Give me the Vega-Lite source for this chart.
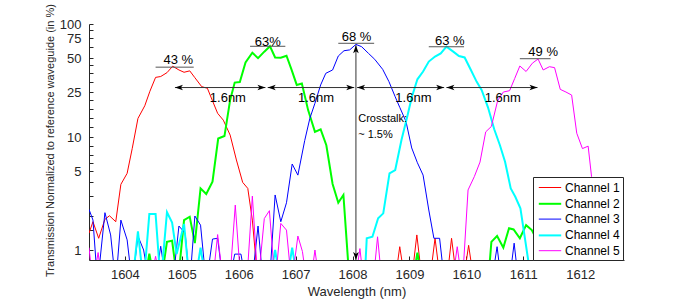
{
"$schema":"https://vega.github.io/schema/vega-lite/v6.json",
"width":535,"height":236,
"autosize":{"type":"none"},
"padding":{"left":89,"top":24,"right":66,"bottom":40},
"background":"white",
"config":{"font":"Liberation Sans","view":{"stroke":null},
 "axis":{"grid":false,"domainColor":"#262626","tickColor":"#262626","labelColor":"#262626","titleColor":"#262626","labelFont":"Liberation Sans","titleFont":"Liberation Sans","titleFontWeight":"normal","labelFontSize":13,"tickSize":-4},
 "legend":{"title":null,"orient":"none","legendX":444,"legendY":153,"strokeColor":"#262626","fillColor":"white","padding":3,"symbolType":"M-1.6,0L1.6,0","symbolSize":196,"symbolOffset":6,"labelFontSize":12,"labelFont":"Liberation Sans","labelColor":"black","rowPadding":1.8,"labelOffset":7}},
"encoding":{
 "x":{"field":"wl","type":"quantitative","scale":{"domain":[1603.37,1612.77],"nice":false,"zero":false},
  "axis":{"values":[1604,1605,1606,1607,1608,1609,1610,1611,1612],"format":"d","title":"Wavelength (nm)","titleFontSize":13,"labelPadding":12,"titlePadding":4}},
 "y":{"field":"val","type":"quantitative","scale":{"type":"log","domain":[0.816,100],"nice":false},
  "axis":{"values":[1,1.5,2,3,4,5,5.86,6.9,8.4,10,12.2,14.6,17.7,21.3,25,30.5,36.6,43.3,50,62,75,88,100],
   "labelExpr":"indexof([1,5,10,25,50,75,100], datum.value) >= 0 ? format(datum.value, 'd') : ''",
   "title":"Transmission Normalized to reference waveguide (in %)","titleFontSize":11,"labelPadding":12,"titleX":-39,"titleY":116,"titleBaseline":"middle"}}
},
"layer":[
{
"data":{"values":[
{"ch":"Channel 1","wl":1603.37,"val":1.41},{"ch":"Channel 1","wl":1603.44,"val":1.78},{"ch":"Channel 1","wl":1603.54,"val":1.27},{"ch":"Channel 1","wl":1603.65,"val":1.87},{"ch":"Channel 1","wl":1603.73,"val":2.01},{"ch":"Channel 1","wl":1603.84,"val":1.78},{"ch":"Channel 1","wl":1603.93,"val":3.81},{"ch":"Channel 1","wl":1604.04,"val":4.77},{"ch":"Channel 1","wl":1604.13,"val":7.94},{"ch":"Channel 1","wl":1604.23,"val":14.6},{"ch":"Channel 1","wl":1604.35,"val":18.9},{"ch":"Channel 1","wl":1604.44,"val":25.4},{"ch":"Channel 1","wl":1604.54,"val":33.7},{"ch":"Channel 1","wl":1604.63,"val":34.3},{"ch":"Channel 1","wl":1604.74,"val":37.1},{"ch":"Channel 1","wl":1604.84,"val":42.3},{"ch":"Channel 1","wl":1604.95,"val":39.2},{"ch":"Channel 1","wl":1605.04,"val":37.4},{"ch":"Channel 1","wl":1605.14,"val":38.5},{"ch":"Channel 1","wl":1605.23,"val":33.5},{"ch":"Channel 1","wl":1605.35,"val":27.9},{"ch":"Channel 1","wl":1605.45,"val":27.0},{"ch":"Channel 1","wl":1605.54,"val":20.9},{"ch":"Channel 1","wl":1605.63,"val":16.2},{"ch":"Channel 1","wl":1605.73,"val":14.1},{"ch":"Channel 1","wl":1605.85,"val":10.4},{"ch":"Channel 1","wl":1605.96,"val":6.26},{"ch":"Channel 1","wl":1606.07,"val":3.97},{"ch":"Channel 1","wl":1606.16,"val":3.51},{"ch":"Channel 1","wl":1606.24,"val":1.84},{"ch":"Channel 1","wl":1606.34,"val":0.5},{"ch":"Channel 1","wl":1607.5,"val":0.5},{"ch":"Channel 1","wl":1608.74,"val":0.5},{"ch":"Channel 1","wl":1608.83,"val":1.07},{"ch":"Channel 1","wl":1608.93,"val":0.5},{"ch":"Channel 1","wl":1609.03,"val":0.5},{"ch":"Channel 1","wl":1609.13,"val":1.36},{"ch":"Channel 1","wl":1609.23,"val":0.5},{"ch":"Channel 1","wl":1609.35,"val":0.5},{"ch":"Channel 1","wl":1609.45,"val":1.27},{"ch":"Channel 1","wl":1609.55,"val":0.5},{"ch":"Channel 1","wl":1609.65,"val":0.5},{"ch":"Channel 1","wl":1609.74,"val":1.27},{"ch":"Channel 1","wl":1609.84,"val":0.5},{"ch":"Channel 1","wl":1609.94,"val":0.5},{"ch":"Channel 1","wl":1610.04,"val":1.1},{"ch":"Channel 1","wl":1610.14,"val":0.5},{"ch":"Channel 1","wl":1612.7,"val":0.5},{"ch":"Channel 1","wl":1612.77,"val":0.9},
{"ch":"Channel 2","wl":1603.37,"val":0.5},{"ch":"Channel 2","wl":1604.34,"val":0.5},{"ch":"Channel 2","wl":1604.43,"val":0.93},{"ch":"Channel 2","wl":1604.53,"val":0.5},{"ch":"Channel 2","wl":1604.63,"val":0.5},{"ch":"Channel 2","wl":1604.74,"val":1.18},{"ch":"Channel 2","wl":1604.83,"val":1.21},{"ch":"Channel 2","wl":1604.93,"val":0.5},{"ch":"Channel 2","wl":1605.04,"val":1.84},{"ch":"Channel 2","wl":1605.14,"val":1.97},{"ch":"Channel 2","wl":1605.23,"val":1.15},{"ch":"Channel 2","wl":1605.33,"val":3.51},{"ch":"Channel 2","wl":1605.43,"val":3.13},{"ch":"Channel 2","wl":1605.54,"val":4.03},{"ch":"Channel 2","wl":1605.64,"val":9.7},{"ch":"Channel 2","wl":1605.75,"val":10.2},{"ch":"Channel 2","wl":1605.85,"val":21.3},{"ch":"Channel 2","wl":1605.93,"val":30.3},{"ch":"Channel 2","wl":1606.02,"val":30.6},{"ch":"Channel 2","wl":1606.12,"val":45.6},{"ch":"Channel 2","wl":1606.24,"val":55.7},{"ch":"Channel 2","wl":1606.34,"val":49.9},{"ch":"Channel 2","wl":1606.45,"val":56.9},{"ch":"Channel 2","wl":1606.55,"val":63.5},{"ch":"Channel 2","wl":1606.64,"val":50.6},{"ch":"Channel 2","wl":1606.74,"val":50.3},{"ch":"Channel 2","wl":1606.84,"val":52.4},{"ch":"Channel 2","wl":1606.93,"val":39.2},{"ch":"Channel 2","wl":1607.02,"val":28.9},{"ch":"Channel 2","wl":1607.11,"val":29.8},{"ch":"Channel 2","wl":1607.22,"val":17.3},{"ch":"Channel 2","wl":1607.34,"val":11.1},{"ch":"Channel 2","wl":1607.44,"val":11.7},{"ch":"Channel 2","wl":1607.54,"val":8.46},{"ch":"Channel 2","wl":1607.65,"val":3.84},{"ch":"Channel 2","wl":1607.75,"val":2.62},{"ch":"Channel 2","wl":1607.84,"val":3.07},{"ch":"Channel 2","wl":1607.95,"val":0.5},{"ch":"Channel 2","wl":1609.05,"val":0.5},{"ch":"Channel 2","wl":1609.14,"val":0.95},{"ch":"Channel 2","wl":1609.23,"val":0.5},{"ch":"Channel 2","wl":1610.38,"val":0.5},{"ch":"Channel 2","wl":1610.44,"val":1.18},{"ch":"Channel 2","wl":1610.54,"val":1.33},{"ch":"Channel 2","wl":1610.65,"val":1.05},{"ch":"Channel 2","wl":1610.75,"val":1.56},{"ch":"Channel 2","wl":1610.83,"val":1.52},{"ch":"Channel 2","wl":1610.94,"val":1.27},{"ch":"Channel 2","wl":1611.05,"val":1.66},{"ch":"Channel 2","wl":1611.15,"val":1.5},{"ch":"Channel 2","wl":1611.25,"val":1.2},{"ch":"Channel 2","wl":1611.35,"val":0.85},{"ch":"Channel 2","wl":1611.45,"val":0.5},{"ch":"Channel 2","wl":1612.77,"val":0.5},
{"ch":"Channel 3","wl":1603.37,"val":2.29},{"ch":"Channel 3","wl":1603.44,"val":1.84},{"ch":"Channel 3","wl":1603.52,"val":0.5},{"ch":"Channel 3","wl":1603.65,"val":2.14},{"ch":"Channel 3","wl":1603.75,"val":1.36},{"ch":"Channel 3","wl":1603.84,"val":0.5},{"ch":"Channel 3","wl":1603.93,"val":1.84},{"ch":"Channel 3","wl":1604.04,"val":1.23},{"ch":"Channel 3","wl":1604.13,"val":0.5},{"ch":"Channel 3","wl":1604.23,"val":1.33},{"ch":"Channel 3","wl":1604.33,"val":1.0},{"ch":"Channel 3","wl":1604.43,"val":0.5},{"ch":"Channel 3","wl":1604.53,"val":0.5},{"ch":"Channel 3","wl":1604.63,"val":1.08},{"ch":"Channel 3","wl":1604.73,"val":0.5},{"ch":"Channel 3","wl":1604.84,"val":0.5},{"ch":"Channel 3","wl":1604.95,"val":1.63},{"ch":"Channel 3","wl":1605.06,"val":1.41},{"ch":"Channel 3","wl":1605.14,"val":0.5},{"ch":"Channel 3","wl":1605.23,"val":2.0},{"ch":"Channel 3","wl":1605.33,"val":1.66},{"ch":"Channel 3","wl":1605.43,"val":0.5},{"ch":"Channel 3","wl":1605.54,"val":1.25},{"ch":"Channel 3","wl":1605.63,"val":1.27},{"ch":"Channel 3","wl":1605.73,"val":0.5},{"ch":"Channel 3","wl":1605.83,"val":0.5},{"ch":"Channel 3","wl":1605.93,"val":0.92},{"ch":"Channel 3","wl":1606.04,"val":0.92},{"ch":"Channel 3","wl":1606.13,"val":0.5},{"ch":"Channel 3","wl":1606.23,"val":0.5},{"ch":"Channel 3","wl":1606.34,"val":1.63},{"ch":"Channel 3","wl":1606.43,"val":0.5},{"ch":"Channel 3","wl":1606.54,"val":0.5},{"ch":"Channel 3","wl":1606.64,"val":3.07},{"ch":"Channel 3","wl":1606.74,"val":1.78},{"ch":"Channel 3","wl":1606.84,"val":2.62},{"ch":"Channel 3","wl":1606.94,"val":5.77},{"ch":"Channel 3","wl":1607.04,"val":4.6},{"ch":"Channel 3","wl":1607.16,"val":9.3},{"ch":"Channel 3","wl":1607.25,"val":14.6},{"ch":"Channel 3","wl":1607.34,"val":19.9},{"ch":"Channel 3","wl":1607.44,"val":28.9},{"ch":"Channel 3","wl":1607.53,"val":36.6},{"ch":"Channel 3","wl":1607.65,"val":39.2},{"ch":"Channel 3","wl":1607.75,"val":52.1},{"ch":"Channel 3","wl":1607.85,"val":58},{"ch":"Channel 3","wl":1607.95,"val":59},{"ch":"Channel 3","wl":1608.06,"val":66},{"ch":"Channel 3","wl":1608.16,"val":63},{"ch":"Channel 3","wl":1608.28,"val":55},{"ch":"Channel 3","wl":1608.39,"val":48.7},{"ch":"Channel 3","wl":1608.53,"val":39.7},{"ch":"Channel 3","wl":1608.64,"val":30.9},{"ch":"Channel 3","wl":1608.75,"val":22.7},{"ch":"Channel 3","wl":1608.83,"val":18.3},{"ch":"Channel 3","wl":1608.94,"val":13.7},{"ch":"Channel 3","wl":1609.04,"val":8.0},{"ch":"Channel 3","wl":1609.14,"val":5.92},{"ch":"Channel 3","wl":1609.24,"val":4.6},{"ch":"Channel 3","wl":1609.34,"val":2.26},{"ch":"Channel 3","wl":1609.43,"val":1.27},{"ch":"Channel 3","wl":1609.53,"val":1.27},{"ch":"Channel 3","wl":1609.62,"val":0.5},{"ch":"Channel 3","wl":1610.44,"val":0.5},{"ch":"Channel 3","wl":1610.54,"val":1.07},{"ch":"Channel 3","wl":1610.62,"val":0.5},{"ch":"Channel 3","wl":1610.75,"val":0.5},{"ch":"Channel 3","wl":1610.84,"val":1.15},{"ch":"Channel 3","wl":1610.92,"val":0.5},{"ch":"Channel 3","wl":1612.68,"val":0.5},{"ch":"Channel 3","wl":1612.77,"val":1.63},
{"ch":"Channel 4","wl":1603.37,"val":0.5},{"ch":"Channel 4","wl":1604.13,"val":0.5},{"ch":"Channel 4","wl":1604.23,"val":1.46},{"ch":"Channel 4","wl":1604.33,"val":0.5},{"ch":"Channel 4","wl":1604.43,"val":2.08},{"ch":"Channel 4","wl":1604.54,"val":2.08},{"ch":"Channel 4","wl":1604.63,"val":0.5},{"ch":"Channel 4","wl":1604.74,"val":2.16},{"ch":"Channel 4","wl":1604.83,"val":1.75},{"ch":"Channel 4","wl":1604.91,"val":0.92},{"ch":"Channel 4","wl":1605.04,"val":1.7},{"ch":"Channel 4","wl":1605.14,"val":0.5},{"ch":"Channel 4","wl":1605.23,"val":0.5},{"ch":"Channel 4","wl":1605.33,"val":1.05},{"ch":"Channel 4","wl":1605.43,"val":0.5},{"ch":"Channel 4","wl":1606.54,"val":0.5},{"ch":"Channel 4","wl":1606.64,"val":1.0},{"ch":"Channel 4","wl":1606.74,"val":0.5},{"ch":"Channel 4","wl":1606.84,"val":0.5},{"ch":"Channel 4","wl":1606.94,"val":1.05},{"ch":"Channel 4","wl":1607.04,"val":0.5},{"ch":"Channel 4","wl":1608.21,"val":0.5},{"ch":"Channel 4","wl":1608.25,"val":1.27},{"ch":"Channel 4","wl":1608.35,"val":1.31},{"ch":"Channel 4","wl":1608.45,"val":1.91},{"ch":"Channel 4","wl":1608.54,"val":2.11},{"ch":"Channel 4","wl":1608.65,"val":4.77},{"ch":"Channel 4","wl":1608.75,"val":5.1},{"ch":"Channel 4","wl":1608.86,"val":9.4},{"ch":"Channel 4","wl":1608.96,"val":15},{"ch":"Channel 4","wl":1609.04,"val":22.4},{"ch":"Channel 4","wl":1609.14,"val":32.4},{"ch":"Channel 4","wl":1609.24,"val":38},{"ch":"Channel 4","wl":1609.34,"val":46.5},{"ch":"Channel 4","wl":1609.45,"val":51.5},{"ch":"Channel 4","wl":1609.55,"val":55},{"ch":"Channel 4","wl":1609.65,"val":63},{"ch":"Channel 4","wl":1609.77,"val":56.9},{"ch":"Channel 4","wl":1609.87,"val":52.1},{"ch":"Channel 4","wl":1609.97,"val":50.6},{"ch":"Channel 4","wl":1610.08,"val":39.2},{"ch":"Channel 4","wl":1610.18,"val":30.9},{"ch":"Channel 4","wl":1610.27,"val":26},{"ch":"Channel 4","wl":1610.38,"val":18.3},{"ch":"Channel 4","wl":1610.49,"val":11.7},{"ch":"Channel 4","wl":1610.59,"val":8.46},{"ch":"Channel 4","wl":1610.68,"val":6.05},{"ch":"Channel 4","wl":1610.78,"val":3.51},{"ch":"Channel 4","wl":1610.86,"val":2.96},{"ch":"Channel 4","wl":1610.95,"val":2.34},{"ch":"Channel 4","wl":1611.15,"val":0.5},{"ch":"Channel 4","wl":1612.77,"val":0.5},
{"ch":"Channel 5","wl":1603.37,"val":1.05},{"ch":"Channel 5","wl":1603.44,"val":0.5},{"ch":"Channel 5","wl":1603.53,"val":0.95},{"ch":"Channel 5","wl":1603.6,"val":0.5},{"ch":"Channel 5","wl":1604.44,"val":0.5},{"ch":"Channel 5","wl":1604.54,"val":0.88},{"ch":"Channel 5","wl":1604.63,"val":0.5},{"ch":"Channel 5","wl":1605.54,"val":0.5},{"ch":"Channel 5","wl":1605.63,"val":1.37},{"ch":"Channel 5","wl":1605.73,"val":0.5},{"ch":"Channel 5","wl":1605.84,"val":0.5},{"ch":"Channel 5","wl":1605.94,"val":2.5},{"ch":"Channel 5","wl":1606.04,"val":0.5},{"ch":"Channel 5","wl":1606.14,"val":0.5},{"ch":"Channel 5","wl":1606.24,"val":3.0},{"ch":"Channel 5","wl":1606.34,"val":0.5},{"ch":"Channel 5","wl":1606.45,"val":1.9},{"ch":"Channel 5","wl":1606.54,"val":2.23},{"ch":"Channel 5","wl":1606.64,"val":0.5},{"ch":"Channel 5","wl":1606.74,"val":1.72},{"ch":"Channel 5","wl":1606.84,"val":1.5},{"ch":"Channel 5","wl":1606.93,"val":0.5},{"ch":"Channel 5","wl":1607.04,"val":1.33},{"ch":"Channel 5","wl":1607.12,"val":0.97},{"ch":"Channel 5","wl":1607.2,"val":0.5},{"ch":"Channel 5","wl":1607.26,"val":0.5},{"ch":"Channel 5","wl":1607.34,"val":1.0},{"ch":"Channel 5","wl":1607.42,"val":0.5},{"ch":"Channel 5","wl":1608.04,"val":0.5},{"ch":"Channel 5","wl":1608.13,"val":1.03},{"ch":"Channel 5","wl":1608.2,"val":0.5},{"ch":"Channel 5","wl":1608.36,"val":0.5},{"ch":"Channel 5","wl":1608.44,"val":1.31},{"ch":"Channel 5","wl":1608.52,"val":0.5},{"ch":"Channel 5","wl":1609.75,"val":0.5},{"ch":"Channel 5","wl":1609.84,"val":1.07},{"ch":"Channel 5","wl":1609.93,"val":0.5},{"ch":"Channel 5","wl":1610.03,"val":3.4},{"ch":"Channel 5","wl":1610.14,"val":4.46},{"ch":"Channel 5","wl":1610.24,"val":6.0},{"ch":"Channel 5","wl":1610.34,"val":11.1},{"ch":"Channel 5","wl":1610.44,"val":12.4},{"ch":"Channel 5","wl":1610.55,"val":21},{"ch":"Channel 5","wl":1610.65,"val":25},{"ch":"Channel 5","wl":1610.76,"val":25.7},{"ch":"Channel 5","wl":1610.85,"val":33},{"ch":"Channel 5","wl":1610.94,"val":42.5},{"ch":"Channel 5","wl":1611.05,"val":38},{"ch":"Channel 5","wl":1611.16,"val":45},{"ch":"Channel 5","wl":1611.26,"val":49},{"ch":"Channel 5","wl":1611.35,"val":39.2},{"ch":"Channel 5","wl":1611.46,"val":41.9},{"ch":"Channel 5","wl":1611.55,"val":41.1},{"ch":"Channel 5","wl":1611.65,"val":26.4},{"ch":"Channel 5","wl":1611.75,"val":25},{"ch":"Channel 5","wl":1611.85,"val":23.5},{"ch":"Channel 5","wl":1611.94,"val":10.8},{"ch":"Channel 5","wl":1612.04,"val":7.9},{"ch":"Channel 5","wl":1612.14,"val":8.3},{"ch":"Channel 5","wl":1612.2,"val":4.46},{"ch":"Channel 5","wl":1612.3,"val":3.0},{"ch":"Channel 5","wl":1612.4,"val":2.2},{"ch":"Channel 5","wl":1612.5,"val":1.6},{"ch":"Channel 5","wl":1612.6,"val":1.2},{"ch":"Channel 5","wl":1612.7,"val":0.5},{"ch":"Channel 5","wl":1612.77,"val":0.95}
]},
"mark":{"type":"line","clip":true},
"encoding":{
 "color":{"field":"ch","type":"nominal","scale":{"domain":["Channel 1","Channel 2","Channel 3","Channel 4","Channel 5"],"range":["#ff0000","#00ff00","#0000ff","#00ffff","#ff00ff"]}},
 "strokeWidth":{"field":"ch","type":"nominal","scale":{"type":"ordinal","domain":["Channel 1","Channel 2","Channel 3","Channel 4","Channel 5"],"range":[1,2,1,2,1]}}
}
},
{
"data":{"values":[
{"wl":1604.54,"wl2":1605.21,"val":41.5},{"wl":1606.20,"wl2":1606.82,"val":63.5},{"wl":1607.75,"wl2":1608.38,"val":67.5},{"wl":1609.34,"wl2":1609.96,"val":62.9},{"wl":1610.94,"wl2":1611.48,"val":49.3}
]},
"mark":{"type":"rule","color":"#555555","strokeWidth":1},
"encoding":{"x2":{"field":"wl2"}}
},
{
"data":{"values":[
{"wl":1604.88,"wl2":1606.47,"val":27.4},{"wl":1606.51,"wl2":1608.03,"val":27.4},{"wl":1608.08,"wl2":1609.61,"val":27.4},{"wl":1609.65,"wl2":1611.25,"val":27.4}
]},
"mark":{"type":"rule","color":"#333333","strokeWidth":1},
"encoding":{"x2":{"field":"wl2"}}
},
{
"data":{"values":[{"wl":1608.06,"val":0.816,"val2":65}]},
"mark":{"type":"rule","color":"#333333","strokeWidth":1},
"encoding":{"y2":{"field":"val2"}}
},
{
"data":{"values":[
{"wl":1604.88,"val":27.4,"dir":"L"},{"wl":1606.47,"val":27.4,"dir":"R"},{"wl":1606.51,"val":27.4,"dir":"L"},{"wl":1608.03,"val":27.4,"dir":"R"},{"wl":1608.08,"val":27.4,"dir":"L"},{"wl":1609.61,"val":27.4,"dir":"R"},{"wl":1609.65,"val":27.4,"dir":"L"},{"wl":1611.25,"val":27.4,"dir":"R"},{"wl":1608.06,"val":65,"dir":"U"},{"wl":1608.06,"val":0.816,"dir":"D"}
]},
"mark":{"type":"point","filled":true,"size":256,"color":"black","opacity":1,"strokeWidth":0},
"encoding":{"shape":{"field":"dir","type":"nominal","legend":null,"scale":{"domain":["L","R","U","D"],"range":["M0,0L1,-0.35L0.75,0L1,0.35Z","M0,0L-1,-0.35L-0.75,0L-1,0.35Z","M0,0L-0.35,1L0,0.75L0.35,1Z","M0,0L-0.35,-1L0,-0.75L0.35,-1Z"]}}}
},
{
"data":{"values":[
{"wl":1604.94,"val":48,"t":"43 %"},{"wl":1606.51,"val":69.7,"t":"63%"},{"wl":1608.07,"val":77.2,"t":"68 %"},{"wl":1609.71,"val":71.2,"t":"63 %"},{"wl":1611.35,"val":56.2,"t":"49 %"},
{"wl":1605.81,"val":22.3,"t":"1.6nm"},{"wl":1607.36,"val":22.3,"t":"1.6nm"},{"wl":1609.07,"val":22.3,"t":"1.6nm"},{"wl":1610.64,"val":22.3,"t":"1.6nm"}
]},
"mark":{"type":"text","fontSize":13,"font":"Liberation Sans","color":"black","baseline":"middle","align":"center"},
"encoding":{"text":{"field":"t"}}
},
{
"data":{"values":[{"wl":1608.1,"val":14.3,"t":"Crosstalk:"},{"wl":1608.1,"val":10.4,"t":"~ 1.5%"}]},
"mark":{"type":"text","fontSize":11,"font":"Liberation Sans","color":"black","baseline":"middle","align":"left"},
"encoding":{"text":{"field":"t"}}
}
]
}
